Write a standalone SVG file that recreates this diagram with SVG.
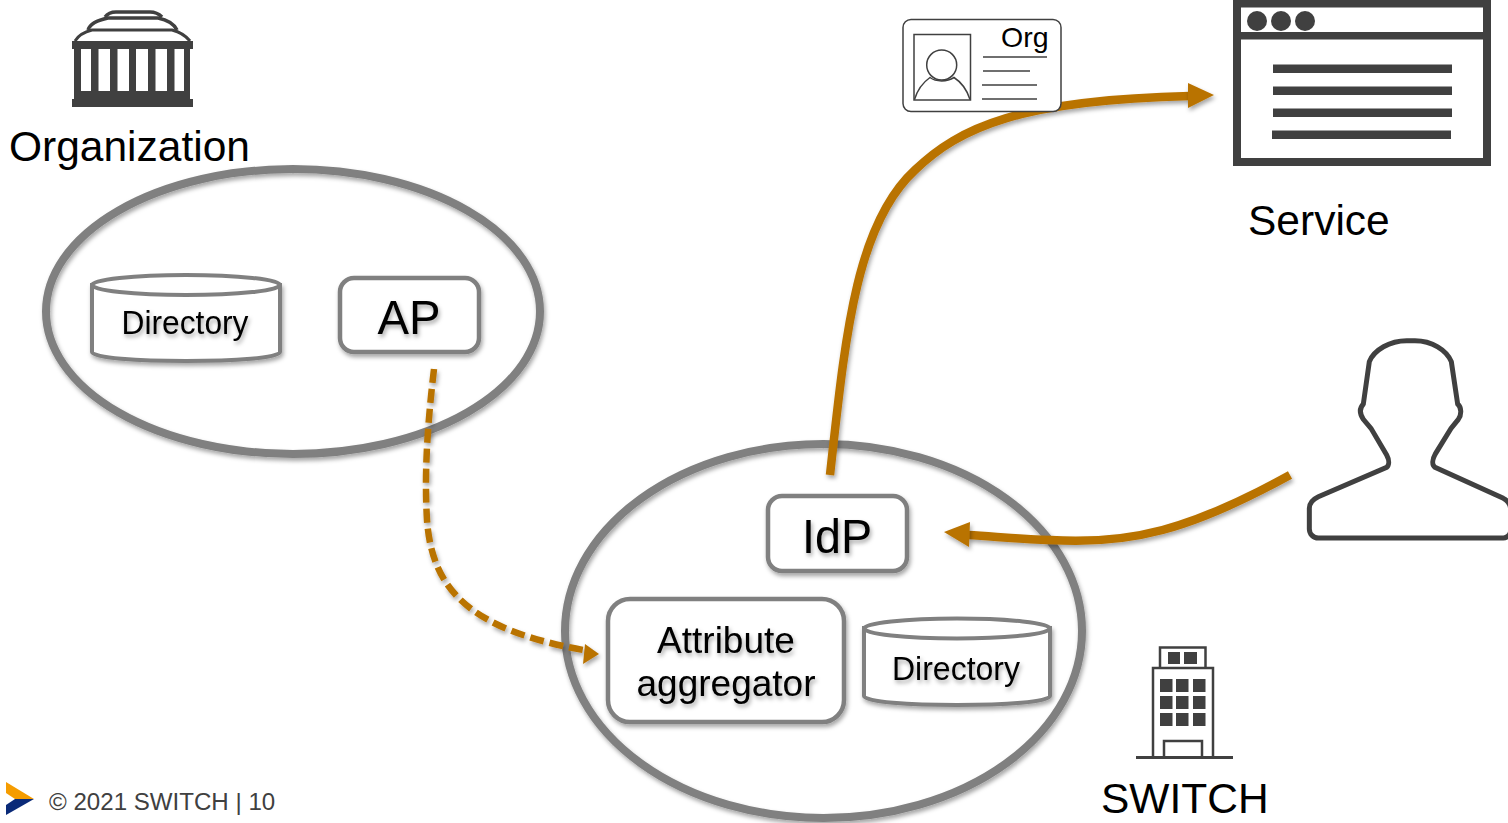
<svg xmlns="http://www.w3.org/2000/svg" width="1508" height="823" viewBox="0 0 1508 823">
<style>
text{font-family:"Liberation Sans",Arial,sans-serif;fill:#000}
.mid{text-anchor:middle}
.ring{fill:none;stroke:#808080;stroke-width:8}
.box{fill:#fff;stroke:#808080;stroke-width:4.5}
.cyl{fill:#fff;stroke:#808080;stroke-width:4}
.dark{fill:#404040}
.flow{fill:none;stroke:#b97300;stroke-width:8.5}
.dash{fill:none;stroke:#b97300;stroke-width:6.5;stroke-dasharray:14 6}
.head{fill:#b97300}
.sh{filter:url(#shadow)}
.thin{fill:#fff;stroke:#404040;stroke-width:1.5}
.ln{stroke:#404040;stroke-width:1.5;fill:none}
</style>
<defs>
<filter id="shadow" x="-20%" y="-20%" width="140%" height="150%"><feDropShadow dx="1.5" dy="3" stdDeviation="2" flood-color="#000" flood-opacity="0.35"/></filter>
</defs>
<rect width="1508" height="823" fill="#fff"/>

<g id="org-ring"><ellipse class="ring sh" cx="293" cy="311.500" rx="247" ry="142.500"/></g>
<g id="switch-ring"><ellipse class="ring sh" cx="823.500" cy="631" rx="258.500" ry="187"/></g>

<g id="connectors">
<path class="dash sh" d="M434 369C428 420 424 470 427 520C432 590 470 630 586 650.500"/>
<polygon class="head sh" points="599,654 585,644 583,664"/>
<path class="flow sh" d="M830 475C845 340 855 225 915 170C960 127 1020 100 1190 96"/>
<polygon class="head sh" points="1214,95 1188,83 1188,108"/>
<path class="flow sh" d="M1290 475C1190 530 1130 545 1050 540C1020 539 1000 537 968 535"/>
<polygon class="head sh" points="944,532 970,522 969,547"/>
</g>

<g id="organization">
<g class="dark">
<rect x="72" y="41" width="121" height="8"/>
<rect x="72" y="99" width="121" height="8"/>
<rect x="81" y="91" width="103" height="9"/>
<rect x="74" y="48" width="7" height="52"/>
<rect x="91" y="48" width="7.500" height="44"/>
<rect x="110" y="48" width="7.500" height="44"/>
<rect x="129" y="48" width="7" height="44"/>
<rect x="148" y="48" width="7.500" height="44"/>
<rect x="167" y="48" width="7.500" height="44"/>
<rect x="184" y="48" width="6" height="52"/>
</g>
<path d="M75 41C78 36 84 32 92 30H172C180 32 186 36 190 41" fill="none" stroke="#404040" stroke-width="3"/>
<path d="M88 30C90 24 98 20 108 18H158C168 20 174 24 177 30" fill="none" stroke="#404040" stroke-width="3.500"/>
<path d="M105 17C108 13 112 12 116 12H150C154 12 158 13 162 17" fill="none" stroke="#404040" stroke-width="3.500"/>
<text x="9" y="161" font-size="42.500">Organization</text>
</g>

<g id="directory-left">
<path class="cyl sh" d="M92 285V352C92 364 280 364 280 352V285Z"/>
<ellipse class="cyl" cx="186" cy="285" rx="94" ry="10"/>
<text class="mid sh" x="185" y="334" font-size="33" textLength="127" lengthAdjust="spacingAndGlyphs">Directory</text>
</g>

<g id="ap">
<rect class="box sh" x="340" y="278" width="139" height="74" rx="14"/>
<text class="mid sh" x="409" y="334" font-size="48" textLength="63" lengthAdjust="spacingAndGlyphs">AP</text>
</g>

<g id="idp">
<rect class="box sh" x="768" y="496" width="139" height="75" rx="14"/>
<text class="mid sh" x="837" y="553" font-size="48" textLength="70" lengthAdjust="spacingAndGlyphs">IdP</text>
</g>

<g id="attribute-aggregator">
<rect class="box sh" x="608" y="599" width="236" height="123" rx="22"/>
<text class="mid sh" x="726" y="653" font-size="37">Attribute</text>
<text class="mid sh" x="726" y="696" font-size="37">aggregator</text>
</g>

<g id="directory-switch">
<path class="cyl sh" d="M864 628V696C864 708 1050 708 1050 696V628Z"/>
<ellipse class="cyl" cx="957" cy="628.500" rx="93" ry="10"/>
<text class="mid sh" x="956" y="680" font-size="33" textLength="128" lengthAdjust="spacingAndGlyphs">Directory</text>
</g>

<g id="credential">
<rect class="thin" x="903" y="19.500" width="158" height="92" rx="8"/>
<rect class="thin" x="914" y="34.500" width="56.500" height="65.500"/>
<circle class="ln" cx="941.700" cy="65" r="15"/>
<path class="ln" d="M914.500 99.500C918 88 925 81 930 77.500C936 82 947 82 954 77.500C961 82 967 90 970 99.500"/>
<path class="ln" d="M983 57H1047M983 71H1030M982 85H1037M982 99H1037"/>
<text x="1001" y="47" font-size="28.500">Org</text>
</g>

<g id="service">
<rect x="1237" y="3.500" width="250" height="158.500" fill="#fff" stroke="#404040" stroke-width="8"/>
<g class="dark">
<rect x="1237" y="32" width="250" height="7.500"/>
<circle cx="1257" cy="21" r="10"/><circle cx="1281" cy="21" r="10"/><circle cx="1305" cy="21" r="10"/>
<rect x="1273" y="64.500" width="179" height="8.500"/>
<rect x="1273" y="86.500" width="179" height="8.500"/>
<rect x="1273" y="108.500" width="179" height="8.500"/>
<rect x="1272" y="130.500" width="179" height="8.500"/>
</g>
<text x="1248" y="235" font-size="42.500">Service</text>
</g>

<g id="user">
<path transform="translate(1290 330) scale(.33333)" d="M350 32H375C425 32 470 60 484 95L503 222C515 232 515 255 505 268L483 295L437 370C427 388 425 405 435 412L640 505C655 513 662 525 662 540V600C662 615 650 624 640 624H85C70 624 58 612 58 597V535C58 520 68 508 85 500L290 412C298 405 298 390 290 375L243 295L220 268C208 250 208 235 220 222L238 95C252 60 300 32 350 32Z" fill="#fff" stroke="#404040" stroke-width="15"/>
</g>

<g id="switch">
<path d="M1136 757.500H1233" stroke="#404040" stroke-width="3" fill="none"/>
<path d="M1153 757V668H1213V757M1160 668V647.500H1205.500V668M1164 757V741H1202V757" fill="none" stroke="#404040" stroke-width="2.500"/>
<g class="dark">
<rect x="1168" y="652" width="12" height="12"/><rect x="1184" y="652" width="13" height="12"/>
<rect x="1160" y="679" width="12.500" height="13"/><rect x="1176" y="679" width="12.500" height="13"/><rect x="1193" y="679" width="12.500" height="13"/>
<rect x="1160" y="696" width="12.500" height="13"/><rect x="1176" y="696" width="12.500" height="13"/><rect x="1193" y="696" width="12.500" height="13"/>
<rect x="1160" y="713" width="12.500" height="13"/><rect x="1176" y="713" width="12.500" height="13"/><rect x="1193" y="713" width="12.500" height="13"/>
</g>
<text x="1101" y="813" font-size="42.500">SWITCH</text>
</g>

<g id="footer">
<polygon points="6,782 34,799 15,799 6,793" fill="#f59c00"/>
<polygon points="34,799 6,815 6,805 15,799" fill="#0a2a78"/>
<text x="49" y="810" font-size="24.100" style="fill:#404040">© 2021 SWITCH | 10</text>
</g>
</svg>
